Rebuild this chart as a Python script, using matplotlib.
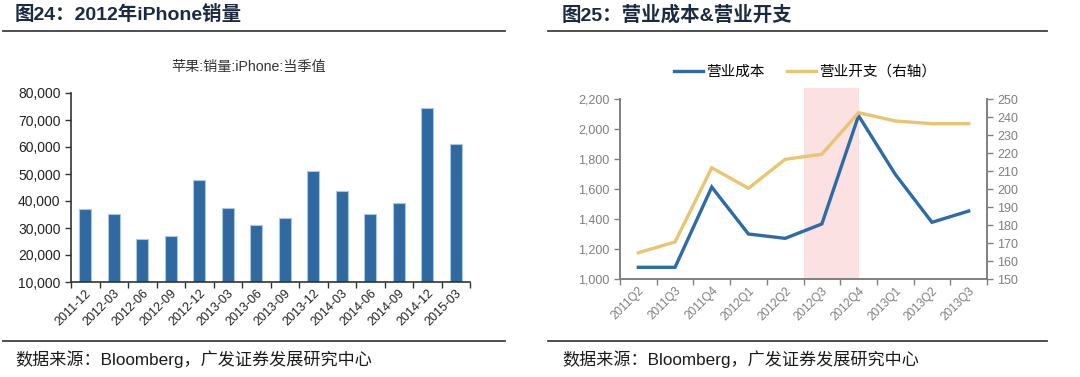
import matplotlib
matplotlib.use("Agg")
import matplotlib.pyplot as plt
from matplotlib.lines import Line2D
from matplotlib.ticker import FuncFormatter, FixedLocator
import numpy as np

plt.rcParams['font.family'] = ['Liberation Sans', 'Noto Sans CJK SC', 'DejaVu Sans']

# ---- data: left chart ----
iphone_quarters = ["2011-12", "2012-03", "2012-06", "2012-09", "2012-12", "2013-03", "2013-06",
                   "2013-09", "2013-12", "2014-03", "2014-06", "2014-09", "2014-12", "2015-03"]
iphone_sales = [37044, 35064, 26028, 26910, 47789, 37430, 31241,
                33797, 51025, 43719, 35203, 39272, 74468, 61170]

# ---- data: right chart ----
quarters = ["2011Q2", "2011Q3", "2011Q4", "2012Q1", "2012Q2", "2012Q3", "2012Q4",
            "2013Q1", "2013Q2", "2013Q3"]
op_cost = [1078, 1078, 1613, 1300, 1271, 1367, 2089, 1698, 1378, 1453]
op_expense = [164.6, 170.6, 211.8, 200.4, 216.5, 219.3, 242.4, 237.8, 236.3, 236.3]
shade_start, shade_end = "2012Q3", "2012Q4"

W, H = 1080, 377
fig = plt.figure(figsize=(W / 100, H / 100), dpi=100)

def fx(px):
    return px / W

def fy(py):
    return 1 - py / H

head_color = "#1B2A41"
line_color = "#404040"

# headers and footers
for x0, x1, tx, title in [(3, 505, 15, "图24：2012年iPhone销量"),
                          (548, 1047, 562, "图25：营业成本&营业开支")]:
    fig.add_artist(Line2D([fx(x0), fx(x1)], [fy(31), fy(31)], color=line_color, lw=1.3))
    fig.add_artist(Line2D([fx(x0), fx(x1)], [fy(341), fy(341)], color=line_color, lw=1.3))
    fig.text(fx(tx), fy(15), title, fontsize=14, fontweight='bold', color=head_color,
             ha='left', va='center')
    fig.text(fx(tx), fy(359), "数据来源：Bloomberg，广发证券发展研究中心", fontsize=12.3,
             color="#1a1a1a", ha='left', va='center')

# ---- left chart ----
ax1 = fig.add_axes([fx(71), fy(282), fx(470 - 71), (282 - 93) / H])
x = np.arange(len(iphone_quarters))
ax1.bar(x, iphone_sales, width=0.42, color="#2F69A0", edgecolor="#A9C6E3", linewidth=0.8)
ax1.set_ylim(10000, 80000)
ax1.set_xlim(-0.5, len(iphone_quarters) - 0.5)
ax1.set_yticks(np.arange(10000, 80001, 10000))
ax1.yaxis.set_major_formatter(FuncFormatter(lambda v, p: f"{int(v):,}"))
ax1.set_xticks(x)
ax1.set_xticklabels(iphone_quarters, rotation=45, ha='right', rotation_mode='anchor')
ax1.xaxis.set_minor_locator(FixedLocator(np.arange(-0.5, len(iphone_quarters), 1.0)))
ax1.tick_params(axis='x', which='major', length=0, labelsize=9, colors="#222222", pad=4)
ax1.tick_params(axis='x', which='minor', length=4, width=1, color="#333333", direction='out')
ax1.tick_params(axis='y', length=4, width=1, color="#333333", labelsize=10, labelcolor="#222222")
for s in ['top', 'right']:
    ax1.spines[s].set_visible(False)
for s in ['left', 'bottom']:
    ax1.spines[s].set_color("#333333")
    ax1.spines[s].set_linewidth(1.2)
fig.text(fx(249), fy(67), "苹果:销量:iPhone:当季值", fontsize=10.2, color="#333333",
         ha='center', va='center')

# ---- right chart ----
ax2 = fig.add_axes([fx(620), fy(279), fx(987 - 620), (279 - 99) / H])
xr = np.arange(len(quarters))
i0 = quarters.index(shade_start) - 0.5
i1 = quarters.index(shade_end)
ax2.axvspan(i0, i1, ymin=0, ymax=(279 - 88) / (279 - 99), color="#FBE1E1", lw=0,
            clip_on=False, zorder=0)
ax2.set_xlim(-0.5, len(quarters) - 0.5)
ax2.set_ylim(1000, 2200)
ax2.set_yticks(np.arange(1000, 2201, 200))
ax2.yaxis.set_major_formatter(FuncFormatter(lambda v, p: f"{int(v):,}"))
l1, = ax2.plot(xr, op_cost, color="#2E6BA6", lw=2.4, zorder=3, solid_joinstyle='miter')
ax3 = ax2.twinx()
ax3.set_ylim(150, 250)
ax3.set_yticks(np.arange(150, 251, 10))
l2, = ax3.plot(xr, op_expense, color="#E8C56F", lw=2.4, zorder=3, solid_joinstyle='miter')
ax2.set_zorder(1)
ax3.set_zorder(2)
ax3.patch.set_visible(False)

ax2.set_xticks(xr)
ax2.set_xticklabels(quarters, rotation=45, ha='right', rotation_mode='anchor')
ax2.xaxis.set_minor_locator(FixedLocator(np.arange(-0.5, len(quarters), 1.0)))
gray = "#808080"
ax2.tick_params(axis='x', which='major', length=0, labelsize=8.5, labelcolor="#7F7F7F", pad=4)
ax2.tick_params(axis='x', which='minor', length=4, width=1, color=gray, direction='out')
ax2.tick_params(axis='y', length=4, width=1, color=gray, labelsize=9, labelcolor="#7F7F7F")
ax3.tick_params(axis='y', length=4, width=1, color=gray, labelsize=9, labelcolor="#7F7F7F")
for a in (ax2, ax3):
    a.spines['top'].set_visible(False)
    for s in ['left', 'right', 'bottom']:
        a.spines[s].set_color(gray)
        a.spines[s].set_linewidth(1.2)

fig.legend([l1, l2], ["营业成本", "营业开支（右轴）"], loc='center',
           bbox_to_anchor=(fx(805), fy(72)), ncol=2, frameon=False, fontsize=10.5,
           handlelength=2.0, handletextpad=0.2, columnspacing=1.5)

fig.savefig("out.png", dpi=100)
